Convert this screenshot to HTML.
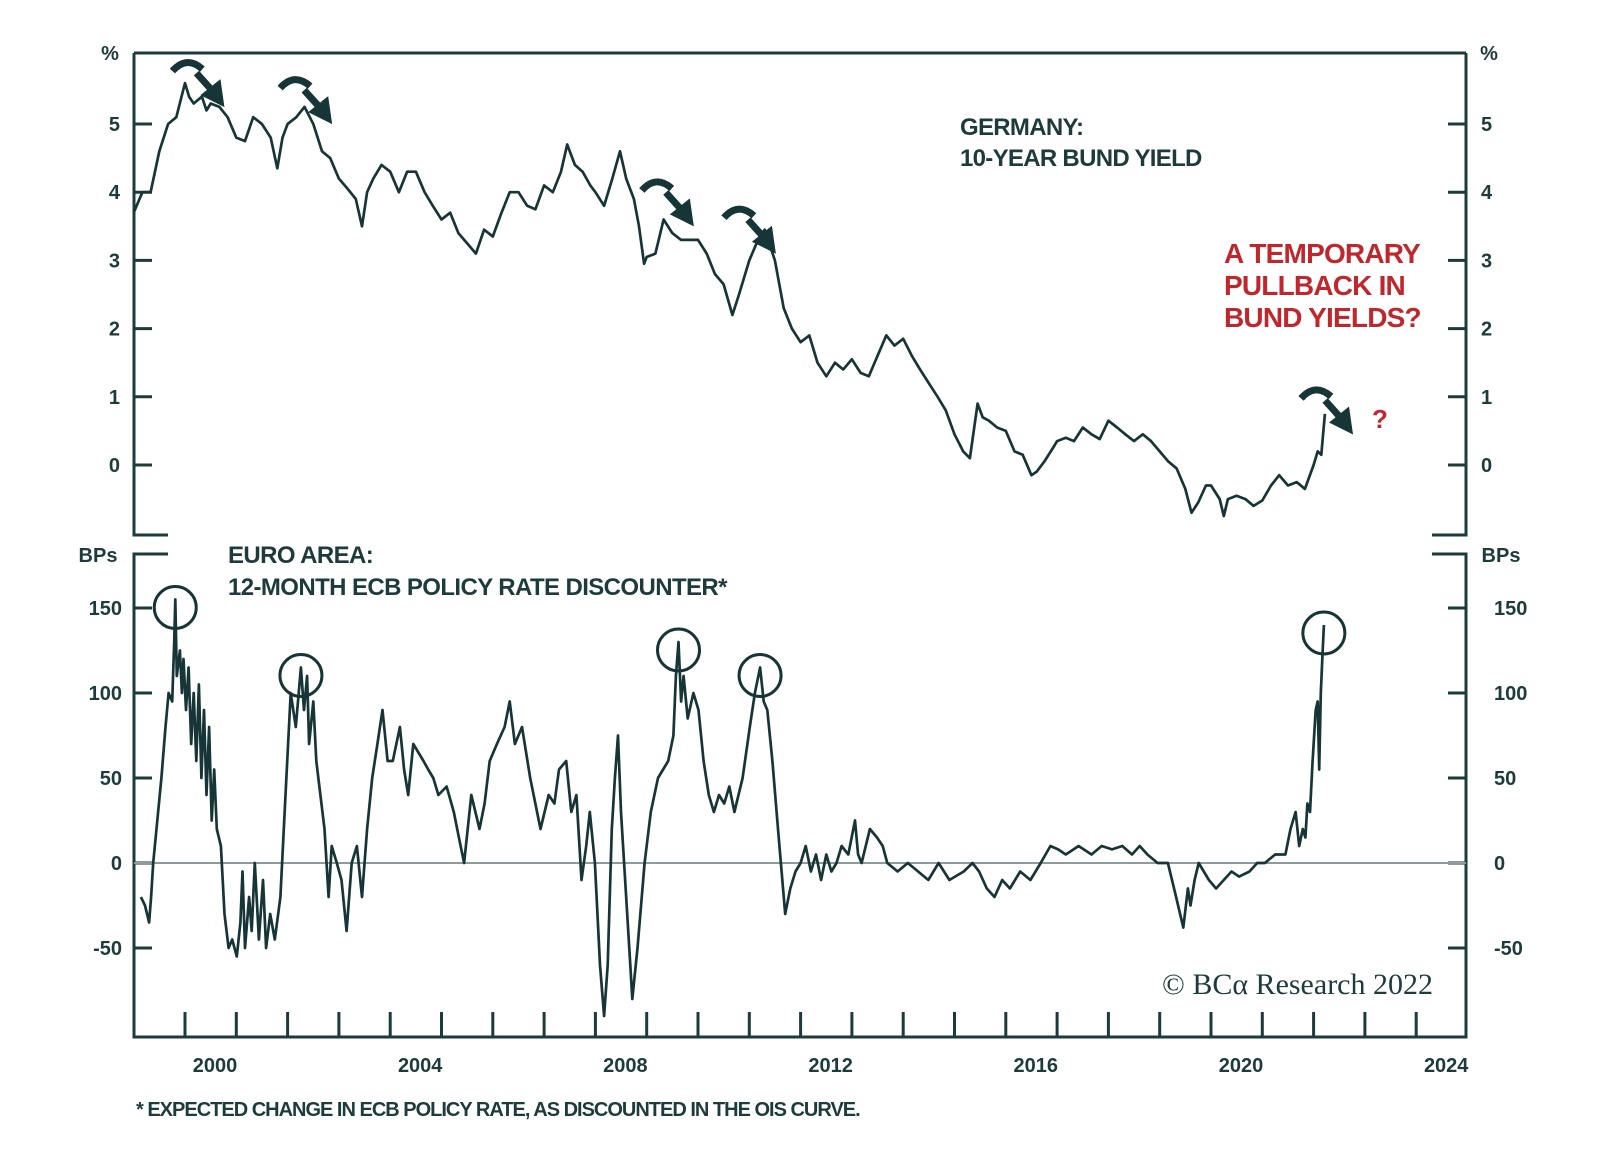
<!DOCTYPE html>
<html><head><meta charset="utf-8"><style>
html,body{margin:0;padding:0;background:#fff;}
svg{display:block;font-family:"Liberation Sans",sans-serif;}
</style></head><body>
<svg id="chart" width="1600" height="1168" viewBox="0 0 1600 1168">
<g id="frame" stroke="#1d3b3c" stroke-width="3" fill="none"></g>
<line x1="134" y1="863" x2="1466" y2="863" stroke="#8c9c9c" stroke-width="2"/>
<g id="series"></g>
<g id="labels" fill="#1d3b3c" font-weight="bold" font-size="20"></g>
<g font-weight="bold">
<text x="960" y="135" font-size="24" fill="#1d3b3c" letter-spacing="-0.7">GERMANY:</text>
<text x="960" y="166" font-size="24" fill="#1d3b3c" letter-spacing="-0.7">10-YEAR BUND YIELD</text>
<text x="228" y="563" font-size="24" fill="#1d3b3c" letter-spacing="-0.6">EURO AREA:</text>
<text x="228" y="595" font-size="24" fill="#1d3b3c" letter-spacing="-0.6">12-MONTH ECB POLICY RATE DISCOUNTER*</text>
<g fill="#c0272d" font-size="28" letter-spacing="-0.8">
<text x="1224" y="263">A TEMPORARY</text>
<text x="1224" y="295">PULLBACK IN</text>
<text x="1224" y="327">BUND YIELDS?</text>
<text x="1372" y="428" font-size="26">?</text>
</g>
<text x="1433" y="994" text-anchor="end" font-family="Liberation Serif, serif" font-weight="normal" font-size="30" fill="#1d3b3c">© BCα Research 2022</text>
<text x="136" y="1116" font-size="20" fill="#1d3b3c" letter-spacing="-1">* EXPECTED CHANGE IN ECB POLICY RATE, AS DISCOUNTED IN THE OIS CURVE.</text>
</g>
<g id="marks"></g>
</svg>
<script>
// Bund 10y yield (%), by decimal year
const bundYears=[1999.0,1999.17,1999.33,1999.5,1999.67,1999.83,2000.0,2000.08,2000.17,2000.33,2000.42,2000.5,2000.67,2000.83,2001.0,2001.17,2001.33,2001.5,2001.67,2001.8,2001.9,2002.0,2002.17,2002.33,2002.5,2002.67,2002.83,2003.0,2003.17,2003.33,2003.45,2003.55,2003.67,2003.83,2004.0,2004.17,2004.33,2004.5,2004.67,2004.83,2005.0,2005.17,2005.33,2005.5,2005.67,2005.83,2006.0,2006.17,2006.33,2006.5,2006.67,2006.83,2007.0,2007.17,2007.33,2007.45,2007.6,2007.75,2007.9,2008.0,2008.17,2008.33,2008.48,2008.6,2008.75,2008.85,2008.95,2009.0,2009.17,2009.33,2009.5,2009.67,2009.83,2010.0,2010.17,2010.33,2010.5,2010.67,2010.8,2011.0,2011.17,2011.3,2011.5,2011.67,2011.83,2012.0,2012.17,2012.33,2012.5,2012.67,2012.83,2013.0,2013.17,2013.33,2013.5,2013.67,2013.83,2014.0,2014.17,2014.33,2014.5,2014.67,2014.83,2015.0,2015.17,2015.3,2015.45,2015.55,2015.67,2015.83,2016.0,2016.17,2016.33,2016.5,2016.6,2016.75,2016.92,2017.0,2017.17,2017.33,2017.5,2017.67,2017.83,2018.0,2018.17,2018.33,2018.5,2018.67,2018.83,2019.0,2019.17,2019.33,2019.5,2019.62,2019.75,2019.9,2020.0,2020.17,2020.25,2020.33,2020.5,2020.67,2020.83,2021.0,2021.17,2021.33,2021.5,2021.67,2021.83,2022.0,2022.08,2022.15,2022.22];
const bundValues=[3.7,4.0,4.0,4.6,5.0,5.1,5.6,5.4,5.3,5.4,5.2,5.3,5.25,5.1,4.8,4.75,5.1,5.0,4.8,4.35,4.8,5.0,5.1,5.25,5.0,4.6,4.5,4.2,4.05,3.9,3.5,4.0,4.2,4.4,4.3,4.0,4.3,4.3,4.0,3.8,3.6,3.7,3.4,3.25,3.1,3.45,3.35,3.7,4.0,4.0,3.8,3.75,4.1,4.0,4.3,4.7,4.4,4.3,4.1,4.0,3.8,4.2,4.6,4.2,3.9,3.5,2.95,3.05,3.1,3.6,3.4,3.3,3.3,3.3,3.1,2.8,2.65,2.2,2.5,3.0,3.3,3.45,3.0,2.3,2.0,1.8,1.9,1.5,1.3,1.5,1.4,1.55,1.35,1.3,1.6,1.9,1.75,1.85,1.6,1.4,1.2,1.0,0.8,0.45,0.2,0.1,0.9,0.7,0.65,0.55,0.5,0.2,0.15,-0.15,-0.1,0.05,0.25,0.35,0.4,0.35,0.55,0.45,0.38,0.65,0.55,0.45,0.35,0.45,0.35,0.2,0.05,-0.05,-0.35,-0.7,-0.55,-0.3,-0.3,-0.5,-0.75,-0.5,-0.45,-0.5,-0.6,-0.52,-0.3,-0.15,-0.3,-0.25,-0.35,0.0,0.2,0.15,0.75];
// ECB policy-rate discounter (bps)
const ecbYears=[
1999.14,1999.22,1999.30,1999.34,1999.38,1999.46,1999.54,1999.62,1999.68,1999.75,
1999.79,1999.81,1999.84,1999.90,1999.94,1999.97,2000.02,2000.07,2000.12,2000.17,
2000.22,2000.27,2000.32,2000.37,2000.42,2000.47,2000.52,2000.57,2000.62,2000.70,
2000.77,2000.85,2000.92,2001.01,2001.08,2001.12,2001.17,2001.25,2001.30,2001.36,
2001.44,2001.52,2001.58,2001.66,2001.75,2001.86,2001.96,2002.06,2002.16,2002.26,
2002.32,2002.38,2002.42,2002.50,2002.56,2002.64,2002.72,2002.80,2002.86,2002.96,
2003.05,2003.15,2003.25,2003.35,2003.45,2003.55,2003.65,2003.75,2003.85,2003.95,
2004.05,2004.19,2004.27,2004.35,2004.45,2004.55,2004.65,2004.74,2004.84,2004.94,
2005.10,2005.24,2005.34,2005.44,2005.58,2005.74,2005.84,2005.94,2006.08,2006.23,
2006.33,2006.43,2006.57,2006.73,2006.93,2007.09,2007.20,2007.29,2007.43,2007.53,
2007.63,2007.73,2007.82,2007.89,2007.99,2008.09,2008.17,2008.24,2008.32,2008.38,
2008.44,2008.50,2008.56,2008.62,2008.68,2008.72,2008.82,2008.96,2009.08,2009.22,
2009.32,2009.42,2009.52,2009.57,2009.62,2009.67,2009.72,2009.80,2009.91,2010.01,
2010.11,2010.21,2010.31,2010.41,2010.51,2010.61,2010.71,2010.87,2011.01,2011.11,
2011.21,2011.28,2011.35,2011.45,2011.56,2011.63,2011.70,2011.80,2011.90,2012.00,
2012.10,2012.20,2012.30,2012.40,2012.50,2012.60,2012.70,2012.80,2012.93,2013.06,
2013.12,2013.19,2013.35,2013.49,2013.60,2013.69,2013.89,2014.09,2014.29,2014.49,
2014.69,2014.90,2015.18,2015.35,2015.48,2015.63,2015.78,2015.93,2016.08,2016.28,
2016.48,2016.68,2016.87,2017.02,2017.17,2017.42,2017.67,2017.87,2018.07,2018.27,
2018.46,2018.61,2018.76,2018.96,2019.16,2019.32,2019.46,2019.55,2019.60,2019.68,
2019.76,2019.86,2019.96,2020.10,2020.25,2020.40,2020.55,2020.75,2020.90,2021.05,
2021.25,2021.45,2021.55,2021.65,2021.72,2021.79,2021.84,2021.88,2021.93,2021.98,
2022.04,2022.08,2022.11,2022.14,2022.17,2022.20];
const ecbValues=[
-20,-25,-35,-20,0,25,50,80,100,95,
130,155,110,125,100,120,90,115,70,100,
60,105,50,90,40,80,25,55,20,10,
-30,-50,-45,-55,-35,-5,-50,-20,-40,0,
-45,-10,-50,-30,-45,-20,40,100,80,115,
90,110,70,95,60,40,20,-20,10,0,
-10,-40,0,10,-20,20,50,70,90,60,
60,80,55,40,70,65,60,55,50,40,
45,30,15,0,40,20,35,60,70,80,
95,70,80,50,20,40,35,55,60,30,
40,-10,10,30,0,-60,-90,-60,20,50,
75,30,0,-30,-60,-80,-50,0,30,50,
55,60,75,110,130,95,110,85,100,90,
60,40,30,40,35,45,30,50,80,100,
115,95,90,60,20,-5,-30,-15,-5,0,
10,-5,5,-10,5,-5,0,10,5,25,
5,0,20,15,10,0,-5,0,-5,-10,
0,-10,-5,0,-5,-15,-20,-10,-15,-5,
-10,0,10,8,5,10,5,10,8,10,
5,10,5,0,0,-20,-38,-15,-25,-10,
0,-5,-10,-15,-10,-5,-8,-5,0,0,
5,5,20,30,10,20,15,35,30,60,
90,95,55,100,120,140];
const yTicksTop=[0,1,2,3,4,5];
const yTicksBot=[-50,0,50,100,150];
const xYears=[2000,2004,2008,2012,2016,2020,2024];
const peakYears=[1999.81,2002.26,2009.62,2011.21,2022.2];
const peakValues=[155,115,130,115,140];
const arrowYears=[1999.95,2002.05,2009.1,2010.7,2021.95];
const arrowValues=[5.6,5.35,3.85,3.45,0.8];

const X=t=>185+(t-2000)*51.3;
const Y1=v=>465-v*68.2;
const Y2=v=>863-v*1.70;
const NS="http://www.w3.org/2000/svg";
function mk(tag,attrs,parent){const e=document.createElementNS(NS,tag);for(const k in attrs)e.setAttribute(k,attrs[k]);parent.appendChild(e);return e;}
const frame=document.getElementById('frame');
const fp="M134,53 H1466 M134,53 V535 H168 M1466,53 V535 H1432 M168,554 H134 V1037 H1466 V554 H1432";
const fr=mk('path',{d:fp},frame);


const labels=document.getElementById('labels');
yTicksTop.forEach(v=>{
  const t1=mk('line',{x1:134,x2:152,y1:Y1(v),y2:Y1(v)},frame);
  
  
  const t2=mk('line',{x1:1448,x2:1466,y1:Y1(v),y2:Y1(v)},frame);
  
  
  const a=mk('text',{x:120,y:Y1(v)+7,'text-anchor':'end'},labels);a.textContent=v;
  
  
  const b=mk('text',{x:1481,y:Y1(v)+7},labels);b.textContent=v;
  
  
});
yTicksBot.forEach(v=>{
  const t1=mk('line',{x1:134,x2:152,y1:Y2(v),y2:Y2(v)},frame);
  
  
  const t2=mk('line',{x1:1448,x2:1466,y1:Y2(v),y2:Y2(v)},frame);
  
  
  const a=mk('text',{x:122,y:Y2(v)+7,'text-anchor':'end'},labels);a.textContent=v;
  
  
  const b=mk('text',{x:1494,y:Y2(v)+7}, labels);b.textContent=v;
  
  
});
for(let y=2000;y<=2024;y++){
  const t=mk('line',{x1:X(y),x2:X(y),y1:1012,y2:1037},frame);
  
  
}
xYears.forEach(y=>{
  const a=mk('text',{x:X(y)+30,y:1072,'text-anchor':'middle'},labels);a.textContent=y;
  
  
});
[["%",110,60],["%",1489,60],["BPs",98,562],["BPs",1501,562]].forEach(([s,x,y])=>{
  const a=mk('text',{x:x,y:y,'text-anchor':'middle'},labels);a.textContent=s;
  
  
});
const series=document.getElementById('series');
const p1=mk('path',{d:bundYears.map((t,i)=>(i?'L':'M')+X(t).toFixed(1)+','+Y1(bundValues[i]).toFixed(1)).join(''),fill:'none',stroke:'#173536','stroke-width':2.7,'stroke-linejoin':'round'},series);


const p2=mk('path',{d:ecbYears.map((t,i)=>(i?'L':'M')+X(t).toFixed(1)+','+Y2(ecbValues[i]).toFixed(1)).join(''),fill:'none',stroke:'#173536','stroke-width':2.7,'stroke-linejoin':'round'},series);


const marks=document.getElementById('marks');
peakYears.forEach((t,i)=>{
  const c=mk('circle',{cx:X(t),cy:Y2(peakValues[i])+8,r:21,fill:'none',stroke:'#173536','stroke-width':3},marks);
  
  
});
arrowYears.forEach((t,i)=>{
  const x=X(t),y=Y1(arrowValues[i])-16;
  const g=mk('g',{transform:`translate(${x},${y})`},marks);
  
  
  mk('path',{d:'M-10,4 Q4,-12 20,2',fill:'none',stroke:'#173536','stroke-width':7},g);
  mk('path',{d:'M14,6 L32,26',fill:'none',stroke:'#173536','stroke-width':7},g);
  mk('path',{d:'M18,28 L42,40 L38,12 Z',fill:'#173536'},g);
});
</script>
</body></html>
